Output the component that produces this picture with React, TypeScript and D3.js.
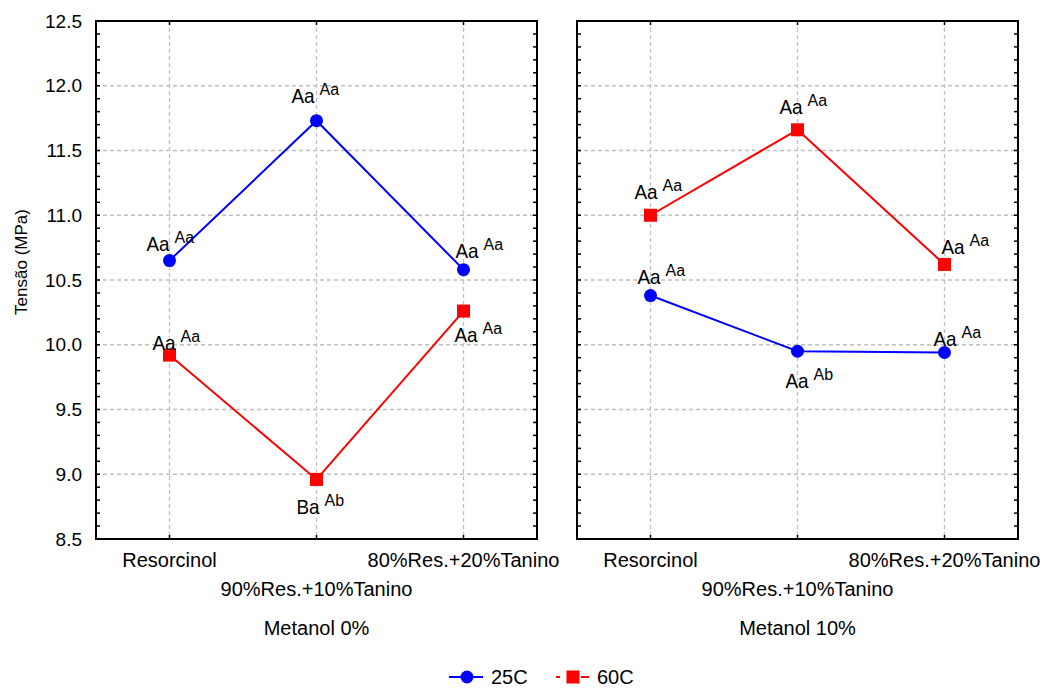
import React from "react";
import * as d3 from "d3";

const categories = ["Resorcinol", "90%Res.+10%Tanino", "80%Res.+20%Tanino"];
const panelTitles = ["Metanol 0%", "Metanol 10%"];
const seriesNames = ["25C", "60C"];
const seriesColors = ["#0000ff", "#ff0000"];

// values per panel (Metanol 0%, Metanol 10%)
const values25 = [
  [10.65, 11.73, 10.58],
  [10.38, 9.95, 9.94],
];
const values60 = [
  [9.92, 8.96, 10.26],
  [11.0, 11.66, 10.62],
];
const letters25 = [
  ["Aa", "Aa", "Aa"],
  ["Aa", "Aa", "Aa"],
];
const sup25 = [
  ["Aa", "Aa", "Aa"],
  ["Aa", "Ab", "Aa"],
];
const letters60 = [
  ["Aa", "Ba", "Aa"],
  ["Aa", "Aa", "Aa"],
];
const sup60 = [
  ["Aa", "Ab", "Aa"],
  ["Aa", "Aa", "Aa"],
];
const yTickValues = [8.5, 9.0, 9.5, 10.0, 10.5, 11.0, 11.5, 12.0, 12.5];
const yTitle = "Tensão (MPa)";

// label placement (layout only): [dx, dy] of main text baseline start relative to point
const offsets25 = [
  [[-23, -10], [-25, -18], [-8, -12]],
  [[-13, -12], [-12, 37], [-11, -7]],
];
const offsets60 = [
  [[-17, -5], [-20, 35], [-9, 31]],
  [[-16, -16], [-18, -16], [-3, -10]],
];

const W = 1045;
const H = 688;
const top = 21;
const bottom = 539;
const panelX = [
  [96, 537],
  [577, 1018],
];
const FONT = "'Liberation Sans', Arial, sans-serif";

const y = d3.scaleLinear().domain([8.5, 12.5]).range([bottom, top]);
const minorTicks = d3.range(85, 126, 1).map((v) => v / 10);

function Label({ x, yy, main, sup }: { x: number; yy: number; main: string; sup: string }) {
  return (
    <g>
      <text
        transform={`translate(${x},${yy}) scale(0.9,1)`}
        fontSize={21}
        fontFamily={FONT}
        fill="#000"
      >
        {main}
      </text>
      <text x={x + 28} y={yy - 8} fontSize={16} fontFamily={FONT} fill="#000">
        {sup}
      </text>
    </g>
  );
}

function Panel({ p }: { p: number }) {
  const [x0, x1] = panelX[p];
  const x = d3.scalePoint<string>().domain(categories).range([x0, x1]).padding(0.5);
  const line = d3
    .line<number>()
    .x((_, i) => x(categories[i]) as number)
    .y((d) => y(d));
  const cx = (x0 + x1) / 2;
  return (
    <g>
      {/* grid */}
      {yTickValues.slice(1, -1).map((v) => (
        <line key={"gy" + v} x1={x0} x2={x1} y1={y(v)} y2={y(v)} stroke="#c0c0c0" strokeWidth={1.3} strokeDasharray="4,3" />
      ))}
      {categories.map((c) => (
        <line key={"gx" + c} x1={x(c)} x2={x(c)} y1={top} y2={bottom} stroke="#c0c0c0" strokeWidth={1.3} strokeDasharray="4,3" />
      ))}
      {/* frame */}
      <rect x={x0} y={top} width={x1 - x0} height={bottom - top} fill="none" stroke="#000" strokeWidth={2} />
      {minorTicks.map((v) => (
        <g key={"mt" + v}>
          <line x1={x0} x2={x0 + 4} y1={y(v)} y2={y(v)} stroke="#000" strokeWidth={1.5} />
          <line x1={x1} x2={x1 - 4} y1={y(v)} y2={y(v)} stroke="#000" strokeWidth={1.5} />
        </g>
      ))}
      {categories.map((c) => (
        <g key={"xt" + c}>
          <line x1={x(c)} x2={x(c)} y1={top} y2={top + 4} stroke="#000" strokeWidth={1.5} />
          <line x1={x(c)} x2={x(c)} y1={bottom} y2={bottom - 4} stroke="#000" strokeWidth={1.5} />
        </g>
      ))}
      {/* category labels */}
      {categories.map((c, i) => (
        <text
          key={"cl" + c}
          x={x(c)}
          y={i === 1 ? 596 : 567}
          textAnchor="middle"
          fontSize={20}
          fontFamily={FONT}
          fill="#000"
        >
          {c}
        </text>
      ))}
      <text x={cx} y={635} textAnchor="middle" fontSize={20} fontFamily={FONT} fill="#000">
        {panelTitles[p]}
      </text>
      {/* series */}
      <path d={line(values25[p]) || ""} fill="none" stroke={seriesColors[0]} strokeWidth={2} />
      <path d={line(values60[p]) || ""} fill="none" stroke={seriesColors[1]} strokeWidth={2} />
      {values25[p].map((v, i) => (
        <circle key={"c" + i} cx={x(categories[i])} cy={y(v)} r={6.5} fill={seriesColors[0]} />
      ))}
      {values60[p].map((v, i) => (
        <rect key={"s" + i} x={(x(categories[i]) as number) - 6.5} y={y(v) - 6.5} width={13} height={13} fill={seriesColors[1]} />
      ))}
      {values25[p].map((v, i) => (
        <Label
          key={"l25" + i}
          x={(x(categories[i]) as number) + offsets25[p][i][0]}
          yy={y(v) + offsets25[p][i][1]}
          main={letters25[p][i]}
          sup={sup25[p][i]}
        />
      ))}
      {values60[p].map((v, i) => (
        <Label
          key={"l60" + i}
          x={(x(categories[i]) as number) + offsets60[p][i][0]}
          yy={y(v) + offsets60[p][i][1]}
          main={letters60[p][i]}
          sup={sup60[p][i]}
        />
      ))}
    </g>
  );
}

export default function App() {
  return (
    <svg
      width={W}
      height={H}
      style={{ position: "absolute", left: 0, top: 0, background: "#fff" }}
    >
      <rect x={0} y={0} width={W} height={H} fill="#fff" />
      {yTickValues.map((v) => (
        <text key={"yl" + v} x={82} y={y(v) + 6.5} textAnchor="end" fontSize={19} fontFamily={FONT} fill="#000">
          {v.toFixed(1)}
        </text>
      ))}
      <text
        transform={`translate(27,262) rotate(-90)`}
        textAnchor="middle"
        fontSize={17}
        fontFamily={FONT}
        fill="#000"
      >
        {yTitle}
      </text>
      {[0, 1].map((p) => (
        <Panel key={p} p={p} />
      ))}
      {/* legend */}
      <g>
        <line x1={449} x2={483} y1={677} y2={677} stroke={seriesColors[0]} strokeWidth={2} />
        <circle cx={467} cy={677} r={6.5} fill={seriesColors[0]} />
        <text x={491} y={684} fontSize={20} fontFamily={FONT} fill="#000">
          {seriesNames[0]}
        </text>
        <line x1={556} x2={560} y1={677} y2={677} stroke={seriesColors[1]} strokeWidth={2} />
        <line x1={581} x2={589} y1={677} y2={677} stroke={seriesColors[1]} strokeWidth={2} />
        <rect x={566.5} y={670.5} width={13} height={13} fill={seriesColors[1]} />
        <text x={597} y={684} fontSize={20} fontFamily={FONT} fill="#000">
          {seriesNames[1]}
        </text>
      </g>
    </svg>
  );
}
